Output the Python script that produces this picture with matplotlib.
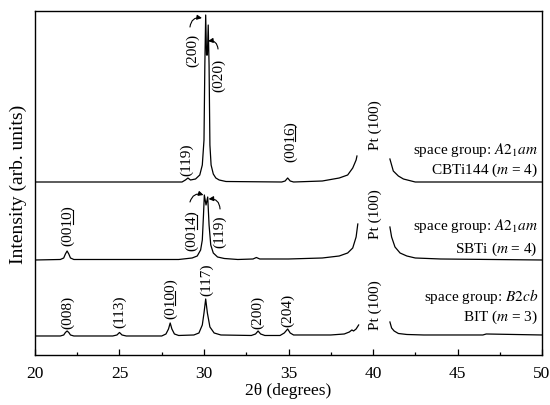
import numpy as np
import matplotlib
matplotlib.use("Agg")
import matplotlib.pyplot as plt

plt.rcParams['font.family'] = ['Liberation Serif', 'DejaVu Serif']
plt.rcParams['mathtext.fontset'] = 'stix'

nan = np.nan

# BIT (m = 3), bottom trace
bit_x = [20, 21.5, 21.7, 21.8, 21.9, 22.0, 22.1, 22.3, 24.6, 24.85, 25.0, 25.15, 25.4,
         27.5, 27.75, 27.9, 28.0, 28.1, 28.25, 28.5, 29.4, 29.7, 29.9, 30.0, 30.1, 30.2,
         30.35, 30.6, 31.0, 32.8, 33.05, 33.2, 33.35, 33.6, 34.5, 34.75, 34.95, 35.1, 35.3,
         37.5, 38.3, 38.6, 38.75, 38.85, 39.0, 39.15,
         nan, 41.0, 41.1, 41.25, 41.5, 42.0, 43.0, 46.5, 46.7, 50]
bit_y = [19, 19, 20, 22.5, 24, 22.5, 20, 19, 19, 20, 22.5, 20, 19,
         19, 21, 26, 32, 26, 21, 19.5, 20, 22, 30, 42, 56, 42,
         28, 22, 20, 19.5, 21, 24, 21, 19.5, 19.5, 22, 26, 22, 20,
         20, 21, 23, 25, 24, 26, 30,
         nan, 33, 27, 24, 21.5, 20.5, 20, 20, 21, 20]

# SBTi (m = 4), middle trace
sbti_x = [20, 21.5, 21.7, 21.8, 21.9, 22.0, 22.1, 22.3, 28.5, 29.3, 29.6, 29.8, 29.9,
          29.97, 30.02, 30.12, 30.22, 30.3, 30.4, 30.55, 30.8, 31.2, 32.0, 32.9, 33.1, 33.3,
          35.0, 37.0, 38.0, 38.5, 38.8, 39.0, 39.1,
          nan, 41.0, 41.1, 41.3, 41.6, 42.0, 42.5, 44.0, 50]
sbti_y = [95, 95.5, 97, 101, 104, 101, 97, 95.5, 95.5, 97, 99, 105, 115,
          140, 160, 150, 158, 130, 110, 102, 98, 96.5, 95.5, 96, 97.5, 96,
          96, 97, 99, 102, 107, 118, 131,
          nan, 128, 118, 108, 102, 99, 97, 96, 95]

# CBTi144 (m = 4), top trace
cbti_x = [20, 28.7, 28.9, 29.05, 29.2, 29.5, 29.75, 29.9, 30.0, 30.05, 30.1, 30.15,
          30.2, 30.25, 30.3, 30.35, 30.42, 30.55, 30.7, 30.9, 31.3, 34.6, 34.8, 34.95,
          35.1, 35.3, 37.0, 38.0, 38.5, 38.8, 39.0, 39.05,
          nan, 41.0, 41.2, 41.5, 41.8, 42.5, 50]
cbti_y = [173, 173, 175, 177, 175, 176, 180, 190, 215, 290, 340, 300,
          300, 330, 290, 210, 190, 181, 177, 175, 173.5, 173, 174, 177,
          174, 173, 174, 177, 180, 187, 195, 199,
          nan, 196, 184, 179, 176, 173, 173]

fig = plt.figure(figsize=(5.5, 4.06), dpi=100)
ax = fig.add_axes([0.0636, 0.1232, 0.9219, 0.8472])

for xs, ys in [(bit_x, bit_y), (sbti_x, sbti_y), (cbti_x, cbti_y)]:
    ax.plot(xs, ys, color='black', lw=0.9)

ax.set_xlim(20, 50)
ax.set_ylim(0, 344)
ax.set_xticks([20, 25, 30, 35, 40, 45, 50])
ax.set_xticks([22.5, 27.5, 32.5, 37.5, 42.5, 47.5], minor=True)
ax.set_yticks([])
ax.tick_params(axis='x', direction='in', length=4, width=0.9, labelsize=12.5, pad=7)
ax.tick_params(axis='x', which='minor', direction='in', length=2.5, width=0.9)
for s in ax.spines.values():
    s.set_linewidth(1.0)
ax.set_xlabel(u'2\u03b8 (degrees)', fontsize=12.5, labelpad=1)
ax.set_ylabel('Intensity (arb. units)', fontsize=14, labelpad=6)

fs = 11
underlined = []  # (text, prefix, underlined part)

def plabel(x, y, s, ul=None):
    t = ax.text(x, y, s, rotation=90, ha='center', va='center', fontsize=fs)
    if ul:
        underlined.append((t, ul[0], ul[1]))

# CBTi144 labels
plabel(29.35, 306, '(200)')
plabel(30.85, 281, '(020)')
plabel(28.95, 196, '(119)')
plabel(35.1, 214, '(0016)', ('(00', '16'))
plabel(40.12, 231, 'Pt (100)')
ax.text(49.75, 206, r'space group: $A2_{1}am$', ha='right', va='center', fontsize=fs)
ax.text(49.75, 186, r'CBTi144 ($m$ = 4)', ha='right', va='center', fontsize=fs)

# SBTi labels
plabel(21.95, 130, '(0010)', ('(00', '10'))
plabel(29.29, 125, '(0014)', ('(00', '14'))
plabel(30.95, 124, '(119)')
plabel(40.12, 142, 'Pt (100)')
ax.text(49.75, 130, r'space group: $A2_{1}am$', ha='right', va='center', fontsize=fs)
ax.text(49.75, 107, r'SBTi ($m$ = 4)', ha='right', va='center', fontsize=fs)

# BIT labels
plabel(21.95, 44, '(008)')
plabel(25.0, 44, '(113)')
plabel(28.0, 57, '(0100)', ('(0', '10'))
plabel(30.17, 76, '(117)')
plabel(33.2, 44, '(200)')
plabel(34.97, 46, '(204)')
plabel(40.12, 51, 'Pt (100)')
ax.text(49.75, 59, r'space group: $B2cb$', ha='right', va='center', fontsize=fs)
ax.text(49.75, 39, r'BIT ($m$ = 3)', ha='right', va='center', fontsize=fs)

# curved arrows pointing at the split peaks
def carrow(x0, y0, x1, y1, rad):
    ax.annotate('', xy=(x1, y1), xytext=(x0, y0),
                arrowprops=dict(arrowstyle='-|>', color='black', lw=0.8,
                                mutation_scale=7, shrinkA=0, shrinkB=0,
                                connectionstyle='arc3,rad=%s' % rad))

carrow(29.17, 328, 29.88, 337, -0.5)
carrow(30.83, 306, 30.24, 314, 0.5)
carrow(29.17, 153, 29.97, 160, -0.5)
carrow(30.95, 146, 30.27, 156, 0.5)

# mathtext has no \underline, so draw the underlines by hand
fig.canvas.draw()
renderer = fig.canvas.get_renderer()
inv = ax.transData.inverted()
for t, pre, u in underlined:
    prop = t.get_fontproperties()
    w_all, h_all, d_all = renderer.get_text_width_height_descent(t.get_text(), prop, ismath=False)
    w_pre, _, _ = renderer.get_text_width_height_descent(pre, prop, ismath=False)
    w_u, _, _ = renderer.get_text_width_height_descent(pre + u, prop, ismath=False)
    bb = t.get_window_extent(renderer)
    base = bb.x1 - d_all + 1.5
    y0 = bb.y0 + w_pre + 0.5
    y1 = bb.y0 + w_u - 0.5
    p0 = inv.transform((base, y0))
    p1 = inv.transform((base, y1))
    ax.plot([p0[0], p1[0]], [p0[1], p1[1]], color='black', lw=0.8)

fig.savefig('out.png', dpi=100)
